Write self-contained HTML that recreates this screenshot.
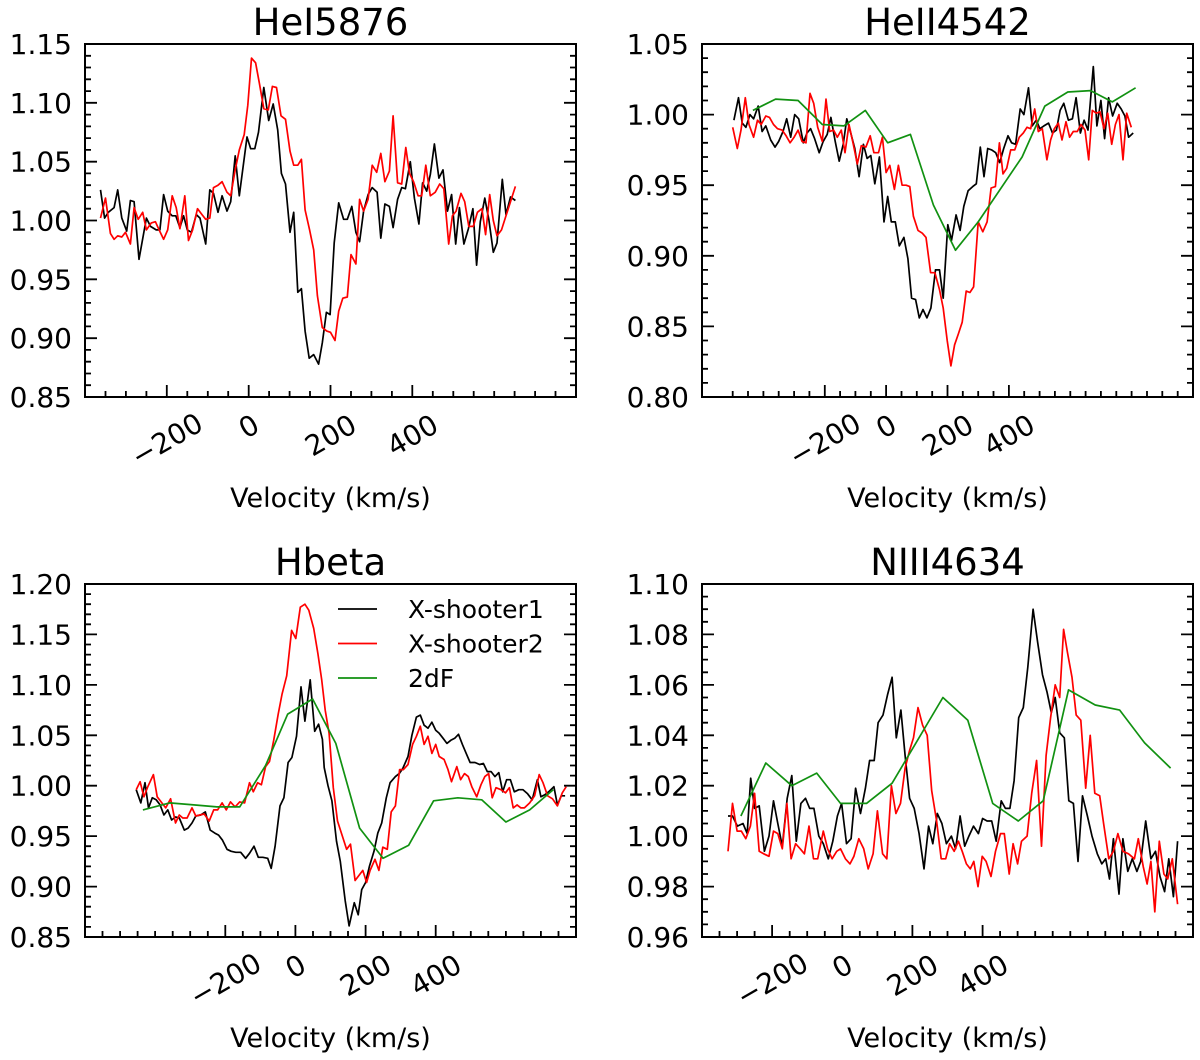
<!DOCTYPE html>
<html><head><meta charset="utf-8"><style>
html,body{margin:0;padding:0;background:#fff;}
svg{display:block;}
text{font-family:"DejaVu Sans","Liberation Sans",sans-serif;fill:#000;}
</style></head><body>
<svg id="fig" width="1200" height="1060" viewBox="0 0 1200 1060" xmlns="http://www.w3.org/2000/svg"></svg>
<script>
// ---------- HeI5876 ----------
const he1_v_x1=[-362,-352,-343,-329,-320,-310,-298,-289,-280,-268,-250,-240,-226,-217,-208,-198,-187,-178,-168,-159,-150,-140,-128,-119,-105,-95,-86,-75,-65,-53,-44,-33,-23,-4,5,15,24,37,49,60,71,80,90,101,110,120,129,138,148,159,171,180,190,199,209,220,232,241,252,262,271,281,292,302,314,323,333,344,353,364,374,383,395,405,416,425,435,444,454,465,475,486,496,506,515,526,537,548,557,566,577,587,598,607,620,629,640,652];
const he1_f_x1=[1.026,1.002,1.007,1.011,1.026,1.002,0.991,1.017,1.016,0.967,1.002,0.995,0.992,0.992,1.022,1.008,1.004,1.004,0.994,1.004,0.992,0.990,1.005,1.002,0.980,1.026,1.023,1.007,1.021,1.008,1.016,1.055,1.021,1.071,1.061,1.061,1.075,1.113,1.085,1.099,1.077,1.040,1.031,0.990,1.007,0.939,0.942,0.906,0.883,0.886,0.878,0.896,0.922,0.920,0.981,1.015,1.001,1.001,1.012,0.990,0.982,1.008,1.022,1.028,1.024,0.985,1.014,1.012,0.994,1.018,1.028,1.027,1.050,1.019,0.997,1.032,1.025,1.039,1.065,1.036,1.043,1.008,1.022,0.980,1.011,0.980,0.993,1.010,0.962,0.999,1.019,1.001,0.973,0.981,1.035,1.005,1.020,1.017];
const he1_v_x2=[-362,-350,-338,-329,-320,-310,-301,-289,-280,-270,-259,-250,-238,-228,-219,-208,-198,-187,-177,-168,-156,-147,-137,-125,-114,-105,-95,-86,-75,-65,-53,-44,-33,-23,-11,-2,7,17,26,37,48,58,68,79,90,101,110,120,129,138,149,159,168,180,191,200,211,220,230,241,250,262,271,281,292,302,313,323,333,344,353,364,374,384,393,403,414,423,433,444,456,467,477,489,498,507,519,528,538,549,559,570,579,589,598,607,618,629,640,652];
const he1_f_x2=[1.002,1.019,0.989,0.984,0.987,0.986,0.990,0.980,1.011,1.001,1.007,0.992,0.998,0.999,0.992,0.984,0.992,1.021,1.011,0.993,1.021,0.983,0.992,1.010,1.005,1.001,1.002,1.028,1.030,1.033,1.024,1.021,1.043,1.060,1.073,1.098,1.138,1.134,1.117,1.095,1.094,1.114,1.113,1.089,1.086,1.059,1.047,1.047,1.052,1.009,0.992,0.975,0.936,0.909,0.906,0.905,0.898,0.923,0.934,0.935,0.971,0.963,1.018,1.008,1.018,1.047,1.041,1.057,1.033,1.042,1.089,1.032,1.031,1.062,1.040,1.033,1.021,1.021,1.047,1.021,1.024,1.031,1.027,0.980,1.004,1.008,1.023,1.016,0.995,0.995,1.007,1.010,0.988,1.022,1.000,0.987,0.992,1.004,1.016,1.029];
// ---------- HeII4542 ----------
const he2_v_x1=[-496,-481,-469,-457,-444,-432,-417,-404,-392,-376,-362,-350,-336,-324,-311,-298,-285,-270,-258,-246,-233,-218,-205,-192,-180,-166,-153,-140,-128,-114,-102,-88,-74,-62,-50,-37,-22,-7,5,17,30,43,58,71,83,96,108,120,133,146,161,174,186,201,213,228,241,253,267,282,294,307,319,331,344,357,370,383,397,409,422,437,449,464,476,489,501,514,529,542,555,567,579,594,607,619,633,645,658,675,687,700,712,725,738,753,766,778,790,805];
const he2_f_x1=[0.996,1.012,0.994,0.991,1.000,0.997,1.006,0.988,0.992,0.982,0.977,0.981,0.988,0.997,0.984,1.000,0.997,0.980,0.987,0.990,0.983,0.973,0.981,0.986,0.998,0.981,0.967,0.979,0.997,0.986,0.976,0.956,0.979,0.969,0.971,0.951,0.970,0.924,0.942,0.924,0.924,0.907,0.913,0.898,0.870,0.869,0.856,0.862,0.856,0.863,0.890,0.890,0.870,0.922,0.911,0.929,0.918,0.935,0.946,0.949,0.951,0.977,0.956,0.976,0.975,0.973,0.966,0.976,0.985,0.980,0.979,1.004,1.000,1.019,0.992,0.996,0.990,0.992,0.994,0.987,0.989,1.003,1.008,0.996,0.997,1.012,0.987,0.996,0.989,1.034,0.992,1.010,0.983,1.012,0.999,1.008,1.004,0.999,0.984,0.987];
const he2_v_x2=[-500,-485,-473,-459,-447,-432,-419,-407,-392,-380,-367,-354,-339,-326,-313,-300,-287,-274,-261,-248,-236,-223,-208,-196,-184,-171,-159,-146,-134,-121,-107,-94,-81,-66,-52,-40,-25,-12,0,12,27,40,52,65,77,89,104,118,130,145,159,174,186,199,211,223,236,248,261,273,285,300,315,329,342,356,369,381,393,406,419,434,447,459,471,484,496,509,524,536,548,561,573,586,598,610,623,635,648,660,672,685,697,710,722,735,747,759,772,784,799];
const he2_f_x2=[0.991,0.976,0.989,1.012,0.993,0.984,0.996,0.993,0.999,0.998,0.993,0.990,0.989,0.985,0.980,0.984,0.989,0.981,0.980,1.015,1.008,0.991,0.981,1.011,0.988,0.989,0.984,0.989,0.973,0.993,0.979,0.965,0.978,0.977,0.985,0.973,0.973,0.984,0.959,0.964,0.947,0.964,0.950,0.950,0.949,0.928,0.918,0.916,0.913,0.888,0.888,0.876,0.863,0.840,0.822,0.837,0.845,0.853,0.875,0.874,0.878,0.924,0.917,0.924,0.948,0.949,0.980,0.958,0.962,0.975,0.975,0.984,0.987,0.991,0.990,1.004,0.988,0.990,0.968,0.982,0.990,0.994,0.982,0.995,0.984,0.988,0.988,0.993,0.989,0.968,1.003,1.001,1.002,0.990,1.001,0.979,0.993,1.000,0.968,1.001,0.991];
const he2_v_2df=[-434,-360,-287,-208,-138,-68,5,79,154,226,300,443,517,592,666,737,813];
const he2_f_2df=[1.003,1.011,1.010,0.993,0.992,1.003,0.980,0.986,0.936,0.904,0.924,0.970,1.006,1.016,1.017,1.009,1.019];
// ---------- Hbeta ----------
const hb_v_x1=[-454,-441,-429,-419,-408,-397,-386,-375,-364,-353,-342,-331,-317,-306,-295,-284,-270,-257,-243,-230,-219,-208,-195,-183,-170,-156,-142,-131,-118,-106,-93,-79,-69,-58,-44,-33,-21,-10,3,16,27,42,55,66,77,82,93,104,117,128,142,153,168,179,189,200,211,224,235,246,259,270,285,296,306,321,332,345,356,367,378,389,400,410,421,432,443,454,465,476,487,498,512,525,536,547,558,569,580,591,602,613,624,637,649,662,675,690,700,711,722,737,747,758,769];
const hb_f_x1=[0.996,0.983,1.003,0.978,0.988,0.986,0.981,0.971,0.976,0.966,0.969,0.968,0.956,0.958,0.963,0.970,0.971,0.974,0.956,0.953,0.951,0.946,0.937,0.935,0.934,0.934,0.928,0.933,0.940,0.929,0.929,0.928,0.918,0.940,0.980,0.988,1.023,1.028,1.049,1.098,1.064,1.105,1.054,1.061,1.046,1.018,1.000,0.985,0.945,0.925,0.886,0.861,0.884,0.872,0.897,0.904,0.920,0.935,0.953,0.963,0.988,1.003,1.009,1.012,1.017,1.029,1.050,1.068,1.070,1.060,1.057,1.063,1.055,1.052,1.047,1.042,1.045,1.047,1.051,1.041,1.032,1.023,1.023,1.021,1.022,1.014,1.014,1.009,1.013,0.994,1.006,1.006,0.994,0.996,0.996,0.992,0.986,1.006,0.989,0.991,0.994,0.999,0.981,0.990,0.990];
const hb_v_x2=[-454,-443,-432,-421,-405,-394,-383,-370,-356,-342,-331,-321,-309,-295,-284,-273,-260,-246,-233,-222,-209,-197,-185,-172,-159,-145,-131,-120,-108,-97,-85,-74,-62,-49,-38,-25,-11,1,14,27,38,52,64,75,85,96,108,120,131,146,157,170,181,192,203,213,227,238,249,262,273,285,297,308,321,334,345,356,367,378,389,400,410,424,435,445,460,471,482,493,503,517,529,540,551,561,572,586,599,610,621,632,643,653,668,682,695,706,719,733,747,761,772];
const hb_f_x2=[0.996,1.004,0.989,0.999,1.011,0.989,0.984,0.978,0.987,0.963,0.971,0.968,0.968,0.978,0.970,0.971,0.972,0.965,0.976,0.976,0.983,0.976,0.984,0.979,0.984,0.983,1.003,0.994,1.003,1.001,1.019,1.024,1.045,1.071,1.091,1.109,1.154,1.146,1.177,1.180,1.174,1.156,1.131,1.105,1.075,1.052,0.998,0.965,0.953,0.937,0.942,0.906,0.911,0.916,0.904,0.916,0.927,0.916,0.939,0.937,0.974,0.980,1.016,1.016,1.021,1.041,1.049,1.059,1.041,1.049,1.032,1.041,1.029,1.026,1.016,1.004,1.019,1.006,1.012,1.009,0.999,0.989,1.001,1.009,1.012,0.988,0.998,0.996,0.993,0.998,0.978,0.981,0.978,0.978,0.983,0.990,1.011,1.003,0.990,0.987,0.980,0.993,0.999];
const hb_v_2df=[-435,-359,-290,-224,-159,-85,-22,49,115,183,250,323,394,463,531,600,668,735];
const hb_f_2df=[0.976,0.983,0.981,0.979,0.979,1.020,1.071,1.086,1.042,0.958,0.928,0.941,0.985,0.988,0.986,0.964,0.976,0.996];
// ---------- NIII4634 ----------
const n3_v_x1=[-326,-313,-299,-283,-271,-261,-250,-237,-222,-209,-196,-184,-171,-157,-144,-131,-118,-105,-93,-81,-67,-54,-40,-27,-14,-2,12,25,38,52,66,78,91,102,116,129,142,154,167,179,192,205,219,233,246,258,271,284,297,311,323,336,349,361,374,388,400,413,426,439,453,465,478,490,503,516,529,544,557,571,584,596,607,620,633,646,659,672,685,699,712,727,740,751,762,773,789,800,814,827,840,851,865,880,893,906,919,931,944,956];
const n3_f_x1=[1.008,1.008,1.004,1.005,1.001,1.023,1.011,1.012,0.994,1.000,1.014,1.005,0.996,1.015,1.024,0.998,1.013,1.015,1.011,1.011,1.000,0.997,0.991,0.998,1.008,1.013,0.997,0.999,1.019,1.009,1.019,1.030,1.030,1.045,1.048,1.056,1.063,1.039,1.050,1.032,1.015,1.011,1.001,0.987,1.004,0.997,1.009,1.005,0.997,1.000,0.995,1.008,0.996,1.000,1.004,1.001,1.007,1.006,1.006,0.998,1.014,1.011,1.011,1.022,1.047,1.051,1.067,1.090,1.077,1.064,1.057,1.049,1.055,1.041,1.039,1.014,1.013,0.990,1.016,1.008,1.000,0.993,0.989,0.991,0.983,0.999,0.977,0.999,0.986,0.991,0.986,0.990,1.006,0.991,0.994,0.984,0.978,0.991,0.976,0.998];
const n3_v_x2=[-326,-313,-300,-288,-275,-262,-250,-237,-224,-209,-196,-184,-171,-158,-146,-133,-120,-108,-95,-82,-70,-54,-42,-29,-16,-5,9,22,33,47,61,74,88,100,115,127,140,153,166,179,192,203,216,229,242,255,269,282,295,306,319,331,342,354,365,375,387,399,410,424,437,451,462,476,487,500,511,527,540,554,568,581,594,607,620,631,642,655,667,680,694,707,720,734,745,760,773,786,800,816,833,844,858,869,880,891,904,917,928,941,956];
const n3_f_x2=[0.994,1.013,1.002,1.002,0.999,1.004,1.017,0.994,0.993,0.992,1.002,1.001,0.995,1.013,0.991,0.997,0.995,0.993,1.004,0.991,0.991,1.002,0.995,0.991,0.994,0.995,0.991,0.989,0.992,0.999,0.995,0.987,0.993,1.010,0.993,0.991,1.020,1.009,1.013,1.027,1.034,1.039,1.051,1.044,1.040,1.018,1.006,0.991,0.991,0.997,0.994,0.998,0.994,0.989,0.987,0.990,0.980,0.992,0.990,0.984,0.994,1.001,1.001,0.985,0.997,0.989,0.998,1.000,1.017,1.030,0.996,1.032,1.047,1.060,1.055,1.082,1.073,1.063,1.048,1.046,1.019,1.040,1.017,1.016,1.005,0.991,0.994,1.001,0.994,0.993,0.991,0.999,0.988,0.981,0.990,0.970,0.998,0.985,0.983,0.991,0.973];
const n3_v_2df=[-289,-218,-144,-73,-5,69,142,287,358,429,502,573,645,721,791,862,936];
const n3_f_2df=[1.008,1.029,1.020,1.025,1.013,1.013,1.021,1.055,1.046,1.013,1.006,1.014,1.058,1.052,1.050,1.037,1.027];

const xMajorTicks=[-200,0,200,400];
const he1_yTicks=[0.85,0.90,0.95,1.00,1.05,1.10,1.15];
const he2_yTicks=[0.80,0.85,0.90,0.95,1.00,1.05];
const hb_yTicks=[0.85,0.90,0.95,1.00,1.05,1.10,1.15,1.20];
const n3_yTicks=[0.96,0.98,1.00,1.02,1.04,1.06,1.08,1.10];

const NS='http://www.w3.org/2000/svg';
const svg=document.getElementById('fig');
function mk(tag,attrs,parent){const e=document.createElementNS(NS,tag);for(const k in attrs)e.setAttribute(k,attrs[k]);(parent||svg).appendChild(e);return e;}
const COL={x1:'#000000',x2:'#ff0000',df:'#119111'};

function panel(cfg){
  const g=mk('g',{});
  
  
  const L=cfg.L,R=cfg.L+491,T=cfg.T,B=cfg.T+353;
  const sx=v=>L+(v-cfg.xmin)/(cfg.xmax-cfg.xmin)*(R-L);
  const sy=f=>B-(f-cfg.ymin)/(cfg.ymax-cfg.ymin)*(B-T);
  const cid='clip-'+cfg.name;
  const cp=mk('clipPath',{id:cid},g);mk('rect',{x:L,y:T,width:R-L,height:B-T},cp);
  cfg.series.forEach(s=>{
    let d='';
    for(let i=0;i<s.v.length;i++){d+=(i?'L':'M')+sx(s.v[i]).toFixed(1)+','+sy(s.f[i]).toFixed(1);}
    const p=mk('path',{d:d,fill:'none',stroke:COL[s.c],'stroke-width':1.7,'stroke-linejoin':'round','clip-path':'url(#'+cid+')'},g);
    
    
  });
  const fr=mk('rect',{x:L,y:T,width:R-L,height:B-T,fill:'none',stroke:'#000','stroke-width':2},g);
  
  
  let td='';
  for(let v=cfg.minStart;v<=cfg.minEnd+0.1;v+=50){
    const x=sx(v);const maj=xMajorTicks.indexOf(v)>=0;
    td+='M'+x.toFixed(1)+','+B+'V'+(B-(maj?12:6));
  }
  const ys=cfg.ymin,ye=cfg.ymax;
  const nMin=Math.round((ye-ys)/cfg.ymin_step);
  for(let i=0;i<=nMin;i++){
    const f=ys+i*cfg.ymin_step;
    const maj=Math.abs(((f-ys)/cfg.ymaj_step)-Math.round((f-ys)/cfg.ymaj_step))<1e-6;
    const y=sy(f).toFixed(1);const len=maj?12:6;
    td+='M'+L+','+y+'H'+(L+len)+'M'+R+','+y+'H'+(R-len);
  }
  const tk=mk('path',{d:td,stroke:'#000','stroke-width':1.8,fill:'none'},g);
  
  
  cfg.yTicks.forEach(f=>{
    const t=mk('text',{x:L-13,y:sy(f)+10,'text-anchor':'end','font-size':28},g);
    t.textContent=f.toFixed(2);
    
    
  });
  xMajorTicks.forEach(v=>{
    const s=v<0?'\u2212'+Math.abs(v):String(v);
    const w=s.length*17.8;
    const cx=sx(v), cy=B+16+(w*0.5+20*0.866)/2;
    const t=mk('text',{x:cx,y:cy+10,'text-anchor':'middle','font-size':28,transform:'rotate(-30 '+cx.toFixed(1)+' '+cy.toFixed(1)+')'},g);
    t.textContent=s;
    
    
  });
  const xl=mk('text',{x:(L+R)/2,y:T+463,'text-anchor':'middle','font-size':27},g);
  xl.textContent='Velocity (km/s)';
  
  
  const ti=mk('text',{x:(L+R)/2,y:T-9,'text-anchor':'middle','font-size':37},g);
  ti.textContent=cfg.title;
  
  
}

panel({name:'hei5876',title:'HeI5876',L:85,T:44,xmin:-400,xmax:800,ymin:0.85,ymax:1.15,ymin_step:0.01,ymaj_step:0.05,minStart:-350,minEnd:750,yTicks:he1_yTicks,
  series:[{n:'xshooter1',c:'x1',v:he1_v_x1,f:he1_f_x1},{n:'xshooter2',c:'x2',v:he1_v_x2,f:he1_f_x2}]});
panel({name:'heii4542',title:'HeII4542',L:702,T:44,xmin:-600,xmax:1000,ymin:0.80,ymax:1.05,ymin_step:0.01,ymaj_step:0.05,minStart:-500,minEnd:950,yTicks:he2_yTicks,
  series:[{n:'xshooter1',c:'x1',v:he2_v_x1,f:he2_f_x1},{n:'xshooter2',c:'x2',v:he2_v_x2,f:he2_f_x2},{n:'2df',c:'df',v:he2_v_2df,f:he2_f_2df}]});
panel({name:'hbeta',title:'Hbeta',L:85,T:584,xmin:-600,xmax:800,ymin:0.85,ymax:1.20,ymin_step:0.01,ymaj_step:0.05,minStart:-550,minEnd:750,yTicks:hb_yTicks,
  series:[{n:'xshooter1',c:'x1',v:hb_v_x1,f:hb_f_x1},{n:'xshooter2',c:'x2',v:hb_v_x2,f:hb_f_x2},{n:'2df',c:'df',v:hb_v_2df,f:hb_f_2df}]});
panel({name:'niii4634',title:'NIII4634',L:702,T:584,xmin:-400,xmax:1000,ymin:0.96,ymax:1.10,ymin_step:0.005,ymaj_step:0.02,minStart:-350,minEnd:950,yTicks:n3_yTicks,
  series:[{n:'xshooter1',c:'x1',v:n3_v_x1,f:n3_f_x1},{n:'xshooter2',c:'x2',v:n3_v_x2,f:n3_f_x2},{n:'2df',c:'df',v:n3_v_2df,f:n3_f_2df}]});

const legNames=['X-shooter1','X-shooter2','2dF'];
const legCols=['x1','x2','df'];
const lg=mk('g',{});


legNames.forEach((n,i)=>{
  const y=609+i*34.5;
  const ln=mk('line',{x1:338,x2:377,y1:y,y2:y,stroke:COL[legCols[i]],'stroke-width':1.8},lg);
  
  
  const t=mk('text',{x:408,y:y+9,'font-size':25},lg);
  t.textContent=n;
  
  
});
</script>
</body></html>
